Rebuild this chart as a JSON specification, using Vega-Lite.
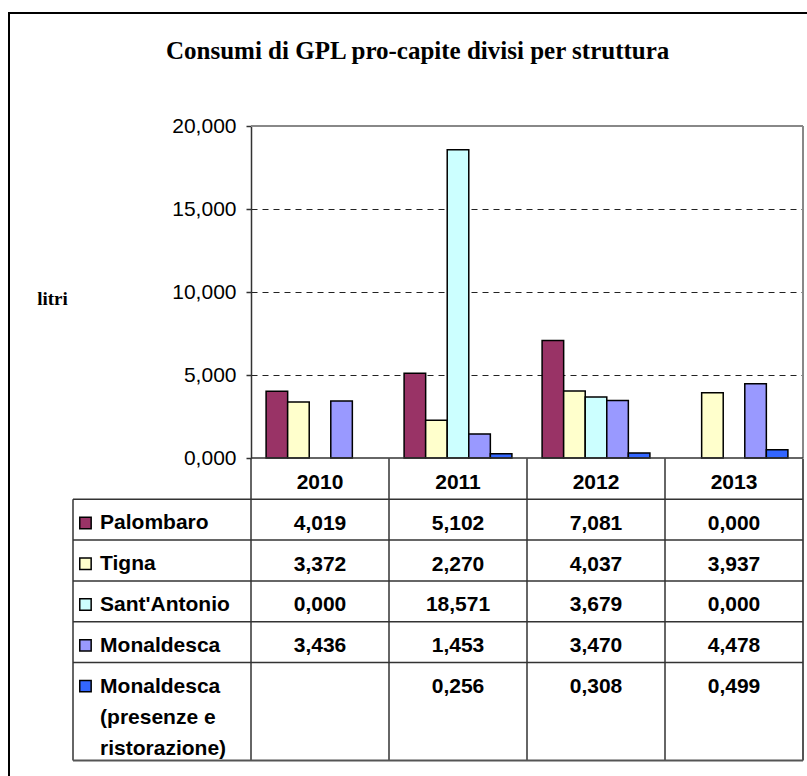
{
  "$schema": "https://vega.github.io/schema/vega-lite/v6.json",
  "width": 810,
  "height": 790,
  "padding": {"left": 9, "top": 13, "right": 0, "bottom": 0},
  "config": {
    "view": {"stroke": "#000", "strokeWidth": 2},
    "font": "Liberation Sans",
    "locale": {"number": {"decimal": ",", "thousands": ".", "grouping": [3], "currency": ["€", ""]}}
  },
  "title": {
    "text": "Consumi di GPL pro-capite divisi per struttura",
    "font": "Liberation Serif", "fontSize": 25, "fontWeight": "bold", "color": "#000",
    "anchor": "start", "frame": "group", "offset": -71, "baseline": "alphabetic", "dx": 157
  },
  "datasets": {
    "vals": [
      {"year": "2010", "series": "Palombaro", "value": 4.019},
      {"year": "2011", "series": "Palombaro", "value": 5.102},
      {"year": "2012", "series": "Palombaro", "value": 7.081},
      {"year": "2013", "series": "Palombaro", "value": 0.000},
      {"year": "2010", "series": "Tigna", "value": 3.372},
      {"year": "2011", "series": "Tigna", "value": 2.270},
      {"year": "2012", "series": "Tigna", "value": 4.037},
      {"year": "2013", "series": "Tigna", "value": 3.937},
      {"year": "2010", "series": "Sant'Antonio", "value": 0.000},
      {"year": "2011", "series": "Sant'Antonio", "value": 18.571},
      {"year": "2012", "series": "Sant'Antonio", "value": 3.679},
      {"year": "2013", "series": "Sant'Antonio", "value": 0.000},
      {"year": "2010", "series": "Monaldesca", "value": 3.436},
      {"year": "2011", "series": "Monaldesca", "value": 1.453},
      {"year": "2012", "series": "Monaldesca", "value": 3.470},
      {"year": "2013", "series": "Monaldesca", "value": 4.478},
      {"year": "2011", "series": "Monaldesca (presenze e ristorazione)", "value": 0.256},
      {"year": "2012", "series": "Monaldesca (presenze e ristorazione)", "value": 0.308},
      {"year": "2013", "series": "Monaldesca (presenze e ristorazione)", "value": 0.499}
    ],
    "years": [{"year": "2010"}, {"year": "2011"}, {"year": "2012"}, {"year": "2013"}],
    "rows": [
      {"series": "Palombaro", "label": "Palombaro"},
      {"series": "Tigna", "label": "Tigna"},
      {"series": "Sant'Antonio", "label": "Sant'Antonio"},
      {"series": "Monaldesca", "label": "Monaldesca"},
      {"series": "Monaldesca (presenze e ristorazione)", "label": "Monaldesca\n(presenze e\nristorazione)"}
    ],
    "one": [{}]
  },
  "layer": [
    {
      "data": {"name": "vals"},
      "transform": [{"filter": "datum.value > 0"}],
      "mark": {"type": "bar", "stroke": "#000", "strokeWidth": 1.5},
      "encoding": {
        "x": {"field": "year", "type": "nominal", "axis": null,
              "scale": {"type": "band", "domain": ["2010", "2011", "2012", "2013"], "range": [242, 794], "paddingInner": 0, "paddingOuter": 0}},
        "xOffset": {"field": "series", "type": "nominal",
              "scale": {"domain": ["Palombaro", "Tigna", "Sant'Antonio", "Monaldesca", "Monaldesca (presenze e ristorazione)"], "paddingInner": 0, "paddingOuter": 0.7}},
        "y": {"field": "value", "type": "quantitative",
              "scale": {"domain": [0, 20], "range": [445, 113], "nice": false, "zero": true},
              "axis": {
                "orient": "left", "offset": -242, "values": [0, 5, 10, 15, 20], "format": ".3f",
                "labelFont": "Liberation Sans", "labelFontSize": 21, "labelColor": "#000", "labelPadding": 10,
                "tickSize": 5, "tickColor": "#333", "tickWidth": 1.5,
                "domainColor": "#333", "domainWidth": 1.5,
                "grid": true, "gridColor": "#222", "gridDash": [6, 5], "gridWidth": 1.2,
                "gridOpacity": {"condition": {"test": "datum.value == 0 || datum.value == 20", "value": 0}, "value": 1},
                "title": "litri", "titleFont": "Liberation Serif", "titleFontWeight": "bold", "titleFontSize": 19,
                "titleColor": "#000", "titleAngle": 0, "titleAlign": "center", "titleBaseline": "alphabetic",
                "titleX": -199, "titleY": 291
              }},
        "color": {"field": "series", "type": "nominal", "legend": null,
              "scale": {"domain": ["Palombaro", "Tigna", "Sant'Antonio", "Monaldesca", "Monaldesca (presenze e ristorazione)"],
                        "range": ["#993366", "#FFFFCC", "#CCFFFF", "#9999FF", "#3366FF"]}}
      }
    },
    {
      "data": {"name": "one"},
      "mark": {"type": "rule", "color": "#888888", "strokeWidth": 2},
      "encoding": {
        "x": {"datum": "2010", "type": "nominal", "bandPosition": 0, "axis": null,
              "scale": {"type": "band", "domain": ["2010", "2011", "2012", "2013"], "range": [242, 794], "paddingInner": 0, "paddingOuter": 0}},
        "x2": {"datum": "2013", "bandPosition": 1},
        "y": {"datum": 20, "type": "quantitative", "axis": null,
              "scale": {"domain": [0, 20], "range": [445, 113], "nice": false, "zero": true}}
      }
    },
    {
      "data": {"name": "one"},
      "mark": {"type": "rule", "color": "#888888", "strokeWidth": 2},
      "encoding": {
        "x": {"datum": "2013", "type": "nominal", "bandPosition": 1, "axis": null,
              "scale": {"type": "band", "domain": ["2010", "2011", "2012", "2013"], "range": [242, 794], "paddingInner": 0, "paddingOuter": 0}},
        "y": {"datum": 0, "type": "quantitative", "axis": null,
              "scale": {"domain": [0, 20], "range": [445, 113], "nice": false, "zero": true}},
        "y2": {"datum": 20}
      }
    },
    {
      "data": {"name": "one"},
      "mark": {"type": "rule", "color": "#333333", "strokeWidth": 1.5},
      "encoding": {
        "x": {"datum": "2010", "type": "nominal", "bandPosition": 0, "axis": null,
              "scale": {"type": "band", "domain": ["2010", "2011", "2012", "2013"], "range": [242, 794], "paddingInner": 0, "paddingOuter": 0}},
        "x2": {"datum": "2013", "bandPosition": 1},
        "y": {"datum": 0, "type": "quantitative", "axis": null,
              "scale": {"domain": [0, 20], "range": [445, 113], "nice": false, "zero": true}}
      }
    },
    {
      "data": {"name": "years"},
      "mark": {"type": "rule", "color": "#333333", "strokeWidth": 1.5},
      "encoding": {
        "x": {"field": "year", "type": "nominal", "bandPosition": 0, "axis": null,
              "scale": {"type": "band", "domain": ["2010", "2011", "2012", "2013"], "range": [242, 794], "paddingInner": 0, "paddingOuter": 0}},
        "y": {"datum": "Anno", "type": "nominal", "bandPosition": 0, "axis": null,
              "scale": {"type": "band", "domain": ["Anno", "Palombaro", "Tigna", "Sant'Antonio", "Monaldesca", "Monaldesca (presenze e ristorazione)", "_a", "_b"], "range": [445.5, 771.9], "paddingInner": 0, "paddingOuter": 0}},
        "y2": {"datum": "_b", "bandPosition": 0.4}
      }
    },
    {
      "data": {"name": "one"},
      "mark": {"type": "rule", "color": "#555555", "strokeWidth": 2},
      "encoding": {
        "x": {"datum": "2013", "type": "nominal", "bandPosition": 1, "axis": null,
              "scale": {"type": "band", "domain": ["2010", "2011", "2012", "2013"], "range": [242, 794], "paddingInner": 0, "paddingOuter": 0}},
        "y": {"datum": "Anno", "type": "nominal", "bandPosition": 0, "axis": null,
              "scale": {"type": "band", "domain": ["Anno", "Palombaro", "Tigna", "Sant'Antonio", "Monaldesca", "Monaldesca (presenze e ristorazione)", "_a", "_b"], "range": [445.5, 771.9], "paddingInner": 0, "paddingOuter": 0}},
        "y2": {"datum": "_b", "bandPosition": 0.4}
      }
    },
    {
      "data": {"name": "one"},
      "mark": {"type": "rule", "color": "#333333", "strokeWidth": 1.5},
      "encoding": {
        "x": {"datum": "lab", "type": "nominal", "bandPosition": 0, "axis": null,
              "scale": {"type": "band", "domain": ["lab"], "range": [64, 242], "paddingInner": 0, "paddingOuter": 0}},
        "y": {"datum": "Palombaro", "type": "nominal", "bandPosition": 0, "axis": null,
              "scale": {"type": "band", "domain": ["Anno", "Palombaro", "Tigna", "Sant'Antonio", "Monaldesca", "Monaldesca (presenze e ristorazione)", "_a", "_b"], "range": [445.5, 771.9], "paddingInner": 0, "paddingOuter": 0}},
        "y2": {"datum": "_b", "bandPosition": 0.4}
      }
    },
    {
      "data": {"name": "rows"},
      "mark": {"type": "rule", "color": "#333333", "strokeWidth": 1.5},
      "encoding": {
        "x": {"datum": "all", "type": "nominal", "bandPosition": 0, "axis": null,
              "scale": {"type": "band", "domain": ["all"], "range": [64, 794], "paddingInner": 0, "paddingOuter": 0}},
        "x2": {"datum": "all", "bandPosition": 1},
        "y": {"field": "series", "type": "nominal", "bandPosition": 0, "axis": null,
              "scale": {"type": "band", "domain": ["Anno", "Palombaro", "Tigna", "Sant'Antonio", "Monaldesca", "Monaldesca (presenze e ristorazione)", "_a", "_b"], "range": [445.5, 771.9], "paddingInner": 0, "paddingOuter": 0}}
      }
    },
    {
      "data": {"name": "one"},
      "mark": {"type": "rule", "color": "#555555", "strokeWidth": 2},
      "encoding": {
        "x": {"datum": "all", "type": "nominal", "bandPosition": 0, "axis": null,
              "scale": {"type": "band", "domain": ["all"], "range": [64, 794], "paddingInner": 0, "paddingOuter": 0}},
        "x2": {"datum": "all", "bandPosition": 1},
        "y": {"datum": "_b", "type": "nominal", "bandPosition": 0.4, "axis": null,
              "scale": {"type": "band", "domain": ["Anno", "Palombaro", "Tigna", "Sant'Antonio", "Monaldesca", "Monaldesca (presenze e ristorazione)", "_a", "_b"], "range": [445.5, 771.9], "paddingInner": 0, "paddingOuter": 0}}
      }
    },
    {
      "data": {"name": "years"},
      "mark": {"type": "text", "font": "Liberation Sans", "fontSize": 21, "fontWeight": "bold", "color": "#000", "baseline": "middle", "dy": 4},
      "encoding": {
        "x": {"field": "year", "type": "nominal", "bandPosition": 0.5, "axis": null,
              "scale": {"type": "band", "domain": ["2010", "2011", "2012", "2013"], "range": [242, 794], "paddingInner": 0, "paddingOuter": 0}},
        "y": {"datum": "Anno", "type": "nominal", "bandPosition": 0.5, "axis": null,
              "scale": {"type": "band", "domain": ["Anno", "Palombaro", "Tigna", "Sant'Antonio", "Monaldesca", "Monaldesca (presenze e ristorazione)", "_a", "_b"], "range": [445.5, 771.9], "paddingInner": 0, "paddingOuter": 0}},
        "text": {"field": "year", "type": "nominal"}
      }
    },
    {
      "data": {"name": "vals"},
      "mark": {"type": "text", "font": "Liberation Sans", "fontSize": 21, "fontWeight": "bold", "color": "#000", "baseline": "middle", "dy": 4},
      "encoding": {
        "x": {"field": "year", "type": "nominal", "bandPosition": 0.5, "axis": null,
              "scale": {"type": "band", "domain": ["2010", "2011", "2012", "2013"], "range": [242, 794], "paddingInner": 0, "paddingOuter": 0}},
        "y": {"field": "series", "type": "nominal", "bandPosition": 0.5, "axis": null,
              "scale": {"type": "band", "domain": ["Anno", "Palombaro", "Tigna", "Sant'Antonio", "Monaldesca", "Monaldesca (presenze e ristorazione)", "_a", "_b"], "range": [445.5, 771.9], "paddingInner": 0, "paddingOuter": 0}},
        "text": {"field": "value", "type": "quantitative", "format": ".3f"}
      }
    },
    {
      "data": {"name": "rows"},
      "mark": {"type": "text", "font": "Liberation Sans", "fontSize": 21, "fontWeight": "bold", "color": "#000", "align": "left", "baseline": "top", "dy": 13, "lineBreak": "\n", "lineHeight": 31},
      "encoding": {
        "x": {"datum": "lab", "type": "nominal", "bandPosition": 0.152, "axis": null,
              "scale": {"type": "band", "domain": ["lab"], "range": [64, 242], "paddingInner": 0, "paddingOuter": 0}},
        "y": {"field": "series", "type": "nominal", "bandPosition": 0, "axis": null,
              "scale": {"type": "band", "domain": ["Anno", "Palombaro", "Tigna", "Sant'Antonio", "Monaldesca", "Monaldesca (presenze e ristorazione)", "_a", "_b"], "range": [445.5, 771.9], "paddingInner": 0, "paddingOuter": 0}},
        "text": {"field": "label", "type": "nominal"}
      }
    },
    {
      "data": {"name": "rows"},
      "mark": {"type": "point", "shape": "square", "filled": true, "size": 130, "stroke": "#000", "strokeWidth": 1.5, "opacity": 1},
      "encoding": {
        "x": {"datum": "lab", "type": "nominal", "bandPosition": 0.07, "axis": null,
              "scale": {"type": "band", "domain": ["lab"], "range": [64, 242], "paddingInner": 0, "paddingOuter": 0}},
        "y": {"field": "series", "type": "nominal", "bandPosition": 0.58, "axis": null,
              "scale": {"type": "band", "domain": ["Anno", "Palombaro", "Tigna", "Sant'Antonio", "Monaldesca", "Monaldesca (presenze e ristorazione)", "_a", "_b"], "range": [445.5, 771.9], "paddingInner": 0, "paddingOuter": 0}},
        "color": {"field": "series", "type": "nominal", "legend": null,
              "scale": {"domain": ["Palombaro", "Tigna", "Sant'Antonio", "Monaldesca", "Monaldesca (presenze e ristorazione)"],
                        "range": ["#993366", "#FFFFCC", "#CCFFFF", "#9999FF", "#3366FF"]}}
      }
    }
  ],
  "resolve": {
    "scale": {"x": "independent", "y": "independent", "color": "independent", "xOffset": "independent"},
    "axis": {"x": "independent", "y": "independent"}
  }
}
